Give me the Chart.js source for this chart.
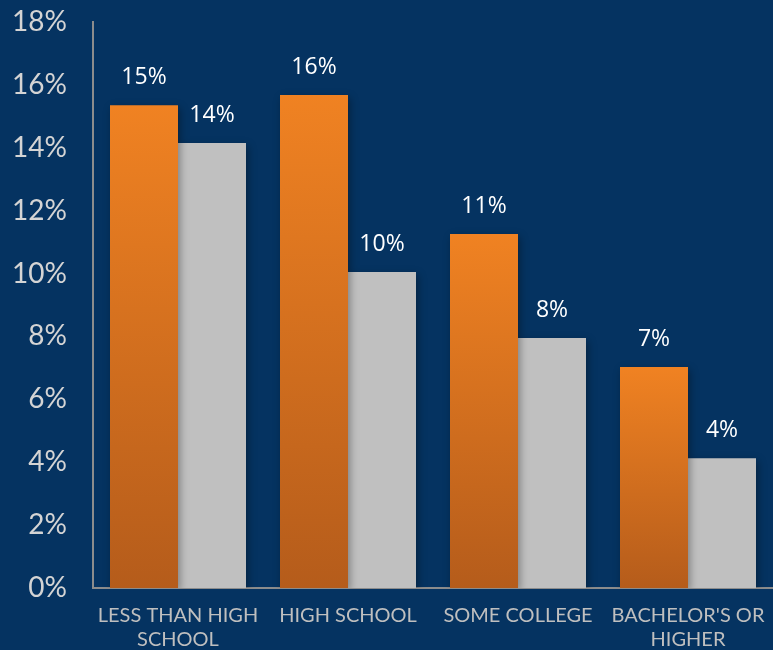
<!DOCTYPE html>
<html>
<head>
<meta charset="utf-8">
<script src="https://cdn.jsdelivr.net/npm/chart.js@4.4.0/dist/chart.umd.min.js"></script>
<style>
  html, body { margin: 0; padding: 0; background: #053361; }
  #wrap { width: 773px; height: 650px; }
</style>
</head>
<body>
<div id="wrap"><canvas id="eduChart"></canvas></div>
<script>
// data
var categories = [
  ['LESS THAN HIGH', 'SCHOOL'],
  'HIGH SCHOOL',
  'SOME COLLEGE',
  ["BACHELOR'S OR", 'HIGHER']
];
var orangeValues = [15.35, 15.68, 11.26, 7.03];
var grayValues = [14.15, 10.05, 7.95, 4.13];
var yTicks = [0, 2, 4, 6, 8, 10, 12, 14, 16, 18];

// gradient from bar top down to the baseline
function orangeFill(context) {
  var chart = context.chart;
  if (!chart.chartArea || context.parsed == null) return '#e87a22';
  var yScale = chart.scales.y;
  var top = yScale.getPixelForValue(context.parsed.y);
  var bottom = yScale.getPixelForValue(0);
  var g = chart.ctx.createLinearGradient(0, top, 0, bottom);
  g.addColorStop(0, '#f08222');
  g.addColorStop(1, '#b55c1b');
  return g;
}

var valueLabels = {
  id: 'valueLabels',
  afterDatasetsDraw: function(chart) {
    var ctx = chart.ctx;
    ctx.save();
    ctx.fillStyle = '#ffffff';
    ctx.font = '23px "Open Sans"';
    ctx.textAlign = 'center';
    ctx.textBaseline = 'bottom';
    chart.data.datasets.forEach(function(ds, i) {
      chart.getDatasetMeta(i).data.forEach(function(bar, j) {
        ctx.fillText(Math.round(ds.data[j]) + '%', bar.x, bar.y - 16);
      });
    });
    ctx.restore();
  }
};

var barShadow = {
  id: 'barShadow',
  beforeDatasetsDraw: function(chart) {
    var ctx = chart.ctx;
    ctx.save();
    ctx.shadowColor = 'rgba(0,0,0,0.35)';
    ctx.shadowBlur = 8;
    ctx.shadowOffsetX = 2;
    ctx.shadowOffsetY = 3;
  },
  afterDatasetsDraw: function(chart) {
    chart.ctx.restore();
  }
};

var ctx = document.getElementById('eduChart').getContext('2d');
var eduChart = new Chart(ctx, {
  type: 'bar',
  data: {
    labels: categories,
    datasets: [{
      data: orangeValues,
      backgroundColor: orangeFill,
      borderWidth: 0
    }, {
      data: grayValues,
      backgroundColor: '#c0c0c0',
      borderWidth: 0
    }]
  },
  options: {
    responsive: true,
    maintainAspectRatio: false,
    animation: false,
    layout: { padding: { top: 22, right: 0, left: 0, bottom: 0 } },
    plugins: {
      legend: { display: false },
      tooltip: { enabled: false }
    },
    datasets: {
      bar: { categoryPercentage: 0.8, barPercentage: 1.0 }
    },
    scales: {
      x: {
        grid: { display: false },
        border: { display: true, color: '#8c8c8c', width: 2 },
        ticks: {
          color: '#bfbfbf',
          font: { family: 'Lato', size: 20 },
          padding: 8,
          maxRotation: 0,
          autoSkip: false
        },
        afterFit: function(scale) {
          scale.height = 62;
          scale.paddingLeft = 0;
          scale.paddingRight = 0;
        }
      },
      y: {
        min: 0,
        max: 18,
        grid: { display: false, drawTicks: false },
        border: { display: true, color: '#8c8c8c', width: 2 },
        afterBuildTicks: function(scale) {
          scale.ticks = yTicks.map(function(v) { return { value: v }; });
        },
        ticks: {
          color: '#d4d4d4',
          font: { family: 'Lato', size: 28 },
          padding: 26,
          callback: function(v) { return v + '%'; }
        },
        afterFit: function(scale) {
          scale.width = 93;
          scale.paddingTop = 0;
          scale.paddingBottom = 0;
        }
      }
    }
  },
  plugins: [barShadow, valueLabels]
});
</script>
</body>
</html>
